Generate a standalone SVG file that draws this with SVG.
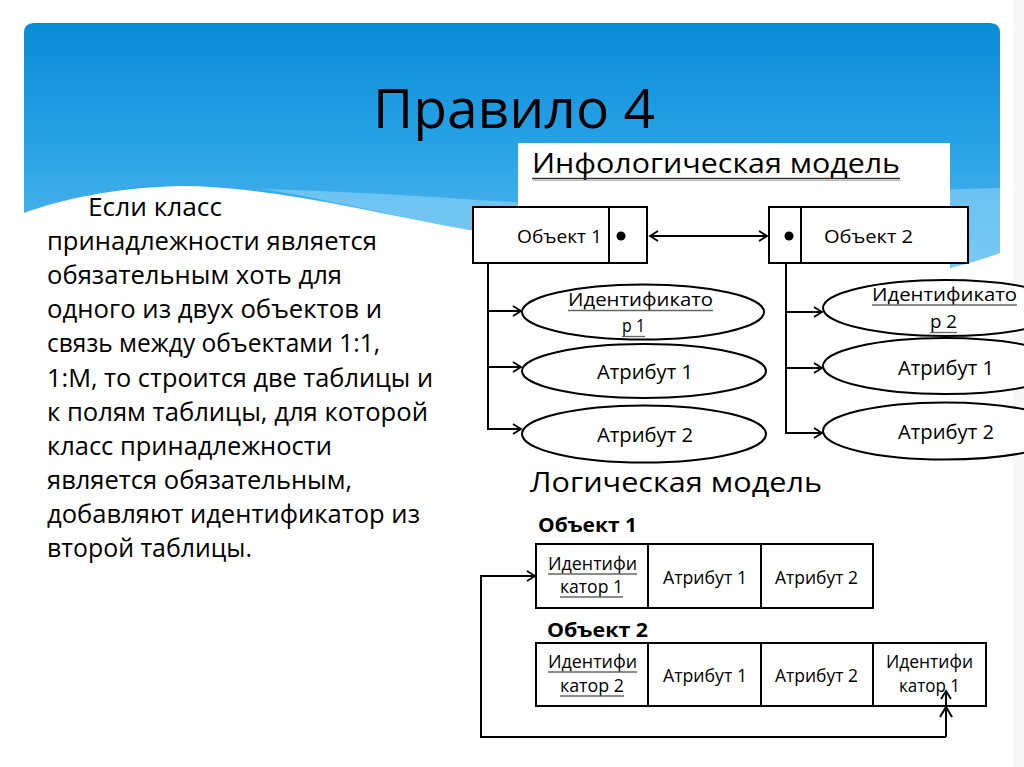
<svg xmlns="http://www.w3.org/2000/svg" width="1024" height="767" viewBox="0 0 1024 767">
<style>
.t{font-family:"Open Sans","Noto Sans","DejaVu Sans",sans-serif;fill:#000}
.body{font-size:26px}
.lbl{font-size:18.5px}
.ellt{font-size:20px}
.idt{font-size:19px}
.bold{font-weight:bold;font-size:20px}
.box{fill:#fff;stroke:#000;stroke-width:2}
.ell{fill:#fff;stroke:#000;stroke-width:2}
.ln{fill:none;stroke:#000;stroke-width:2}
.ul{stroke:#666;stroke-width:1.3}
</style>
<defs>
<linearGradient id="sky" x1="0" y1="23" x2="0" y2="270" gradientUnits="userSpaceOnUse">
<stop offset="0" stop-color="#0a8cd8"/>
<stop offset="0.45" stop-color="#25a0e5"/>
<stop offset="1" stop-color="#58baef"/>
</linearGradient>
<marker id="ah" markerWidth="12" markerHeight="12" refX="10" refY="6" orient="auto" markerUnits="userSpaceOnUse">
<path d="M2,1 L10,6 L2,11" fill="none" stroke="#000" stroke-width="1.8"/>
</marker>
<marker id="ahs" markerWidth="12" markerHeight="12" refX="10" refY="6" orient="auto-start-reverse" markerUnits="userSpaceOnUse">
<path d="M2,1 L10,6 L2,11" fill="none" stroke="#000" stroke-width="1.8"/>
</marker>
</defs>

<g id="background">
<rect x="0" y="0" width="1024" height="767" fill="#ffffff"/>
<rect x="1013" y="0" width="11" height="767" fill="#f6f6f6"/>
<path d="M24,33 Q24,23 34,23 H990 Q1000,23 1000,33 V253 Q975,262 950,268 C760,262 570,242 470,230 C370,212 270,186 180,186 C110,188 60,200 24,213 Z" fill="url(#sky)"/>
<path d="M260,189 C380,192 470,200 560,205 C700,200 850,192 1000,188 V253 Q975,262 950,268 C760,262 570,242 470,230 C380,214 320,197 260,189 Z" fill="#8ed2f6" opacity="0.6"/>
<rect x="518" y="143" width="432" height="132" fill="#ffffff"/>
</g>

<g id="title">
<text class="t" x="373" y="128" font-size="55" textLength="282" lengthAdjust="spacingAndGlyphs">Правило 4</text>
</g>

<g id="description" class="t body">
<text x="88" y="216" textLength="134" lengthAdjust="spacingAndGlyphs">Если класс</text>
<text x="47" y="250" textLength="330" lengthAdjust="spacingAndGlyphs">принадлежности является</text>
<text x="47" y="284" textLength="295" lengthAdjust="spacingAndGlyphs">обязательным хоть для</text>
<text x="47" y="318" textLength="335" lengthAdjust="spacingAndGlyphs">одного из двух объектов и</text>
<text x="47" y="352" textLength="333" lengthAdjust="spacingAndGlyphs">связь между объектами 1:1,</text>
<text x="47" y="387" textLength="386" lengthAdjust="spacingAndGlyphs">1:М, то строится две таблицы и</text>
<text x="47" y="421" textLength="381" lengthAdjust="spacingAndGlyphs">к полям таблицы, для которой</text>
<text x="47" y="455" textLength="285" lengthAdjust="spacingAndGlyphs">класс принадлежности</text>
<text x="47" y="489" textLength="305" lengthAdjust="spacingAndGlyphs">является обязательным,</text>
<text x="47" y="523" textLength="373" lengthAdjust="spacingAndGlyphs">добавляют идентификатор из</text>
<text x="47" y="557" textLength="205" lengthAdjust="spacingAndGlyphs">второй таблицы.</text>
</g>

<g id="infological-heading">
<text class="t" x="532" y="173" font-size="27" textLength="368" lengthAdjust="spacingAndGlyphs">Инфологическая модель</text>
<line x1="532" y1="178.5" x2="900" y2="178.5" stroke="#333" stroke-width="1.5"/>
<line x1="533" y1="180.5" x2="901" y2="180.5" stroke="#bbb" stroke-width="1"/>
</g>

<g id="object1">
<rect class="box" x="473" y="207" width="174" height="56"/>
<line class="ln" x1="609" y1="207" x2="609" y2="263"/>
<circle cx="621" cy="236" r="4.5" fill="#000"/>
<text class="t" x="517" y="243" font-size="18" textLength="85" lengthAdjust="spacingAndGlyphs">Объект 1</text>
</g>

<g id="object2">
<rect class="box" x="769" y="207" width="199" height="56"/>
<line class="ln" x1="801" y1="207" x2="801" y2="263"/>
<circle cx="789" cy="236" r="4.5" fill="#000"/>
<text class="t" x="824" y="243" font-size="18" textLength="89" lengthAdjust="spacingAndGlyphs">Объект 2</text>
</g>

<g id="o1-identifier">
<ellipse class="ell" cx="643" cy="312" rx="121" ry="27.5"/>
<text class="t idt" x="568" y="306" textLength="145" lengthAdjust="spacingAndGlyphs">Идентификато</text>
<line class="ul" x1="568" y1="310.5" x2="713" y2="310.5"/>
<text class="t idt" x="622" y="332" textLength="23" lengthAdjust="spacingAndGlyphs">р 1</text>
<line class="ul" x1="622" y1="336.5" x2="645" y2="336.5"/>
</g>
<g id="o1-attr1">
<ellipse class="ell" cx="644" cy="371" rx="122" ry="27"/>
<text class="t ellt" x="597" y="379" textLength="96" lengthAdjust="spacingAndGlyphs">Атрибут 1</text>
</g>
<g id="o1-attr2">
<ellipse class="ell" cx="644" cy="434" rx="122" ry="28.5"/>
<text class="t ellt" x="597" y="442" textLength="96" lengthAdjust="spacingAndGlyphs">Атрибут 2</text>
</g>

<g id="o2-identifier">
<ellipse class="ell" cx="945" cy="308" rx="122" ry="28"/>
<text class="t idt" x="872" y="301" textLength="145" lengthAdjust="spacingAndGlyphs">Идентификато</text>
<line class="ul" x1="872" y1="305" x2="1017" y2="305"/>
<text class="t idt" x="930" y="328" textLength="27" lengthAdjust="spacingAndGlyphs">р 2</text>
<line class="ul" x1="930" y1="332.5" x2="957" y2="332.5"/>
</g>
<g id="o2-attr1">
<ellipse class="ell" cx="945" cy="366" rx="122" ry="28"/>
<text class="t ellt" x="898" y="375" textLength="96" lengthAdjust="spacingAndGlyphs">Атрибут 1</text>
</g>
<g id="o2-attr2">
<ellipse class="ell" cx="945" cy="431" rx="122" ry="28.5"/>
<text class="t ellt" x="898" y="439" textLength="96" lengthAdjust="spacingAndGlyphs">Атрибут 2</text>
</g>

<g id="logical-heading">
<text class="t" x="530" y="492" font-size="27" textLength="292" lengthAdjust="spacingAndGlyphs">Логическая модель</text>
</g>

<g id="table1">
<text class="t bold" x="538" y="532" textLength="99" lengthAdjust="spacingAndGlyphs">Объект 1</text>
<rect class="box" x="536" y="544" width="337" height="64"/>
<line class="ln" x1="648" y1="544" x2="648" y2="608"/>
<line class="ln" x1="761" y1="544" x2="761" y2="608"/>
<text class="t lbl" x="548" y="570" textLength="89" lengthAdjust="spacingAndGlyphs">Идентифи</text>
<line class="ul" x1="548" y1="574" x2="637" y2="574"/>
<text class="t lbl" x="560" y="593" textLength="63" lengthAdjust="spacingAndGlyphs">катор 1</text>
<line class="ul" x1="560" y1="597" x2="623" y2="597"/>
<text class="t lbl" x="663" y="584" textLength="84" lengthAdjust="spacingAndGlyphs">Атрибут 1</text>
<text class="t lbl" x="775" y="584" textLength="83" lengthAdjust="spacingAndGlyphs">Атрибут 2</text>
</g>

<g id="table2">
<text class="t bold" x="547" y="637" textLength="101" lengthAdjust="spacingAndGlyphs">Объект 2</text>
<rect class="box" x="536" y="643" width="450" height="63"/>
<line class="ln" x1="648" y1="643" x2="648" y2="706"/>
<line class="ln" x1="761" y1="643" x2="761" y2="706"/>
<line class="ln" x1="873" y1="643" x2="873" y2="706"/>
<text class="t lbl" x="548" y="668" textLength="89" lengthAdjust="spacingAndGlyphs">Идентифи</text>
<line class="ul" x1="548" y1="672" x2="637" y2="672"/>
<text class="t lbl" x="560" y="692" textLength="64" lengthAdjust="spacingAndGlyphs">катор 2</text>
<line class="ul" x1="560" y1="696" x2="624" y2="696"/>
<text class="t lbl" x="663" y="682" textLength="84" lengthAdjust="spacingAndGlyphs">Атрибут 1</text>
<text class="t lbl" x="775" y="682" textLength="83" lengthAdjust="spacingAndGlyphs">Атрибут 2</text>
<text class="t lbl" x="886" y="668" textLength="87" lengthAdjust="spacingAndGlyphs">Идентифи</text>
<text class="t lbl" x="899" y="692" textLength="61" lengthAdjust="spacingAndGlyphs">катор 1</text>
</g>

<g id="connectors">
<line class="ln" x1="650" y1="236" x2="767" y2="236" marker-start="url(#ahs)" marker-end="url(#ah)"/>
<path class="ln" d="M488,263 V429"/>
<line class="ln" x1="487" y1="311" x2="521" y2="311" marker-end="url(#ah)"/>
<line class="ln" x1="487" y1="367" x2="521" y2="367" marker-end="url(#ah)"/>
<line class="ln" x1="487" y1="429" x2="521" y2="429" marker-end="url(#ah)"/>
<path class="ln" d="M786,263 V433"/>
<line class="ln" x1="785" y1="312" x2="822" y2="312" marker-end="url(#ah)"/>
<line class="ln" x1="785" y1="368" x2="822" y2="368" marker-end="url(#ah)"/>
<line class="ln" x1="785" y1="433" x2="822" y2="433" marker-end="url(#ah)"/>
<path class="ln" d="M946,737 H481 V576 H535" stroke="#222" marker-end="url(#ah)"/>
<line class="ln" x1="946" y1="737" x2="946" y2="691" marker-end="url(#ah)"/>
<path class="ln" d="M940,717 L946,707 L952,717" stroke-width="1.8"/>
</g>
</svg>
